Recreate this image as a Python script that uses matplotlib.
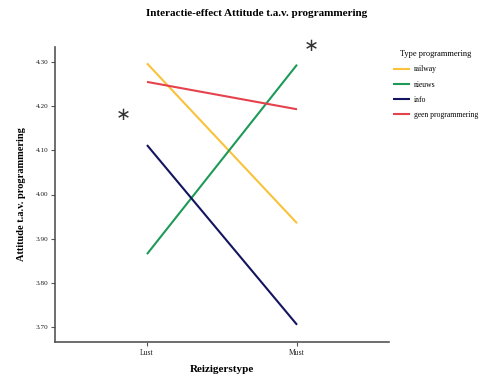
import matplotlib
matplotlib.use("Agg")
from matplotlib import pyplot as plt

# data
reizigerstype = ['Lust', 'Must']
series = ['railway', 'nieuws', 'info', 'geen programmering']
railway = [4.297, 3.935]
nieuws = [3.865, 4.294]
info = [4.112, 3.705]
geen = [4.255, 4.193]
y_ticks = [3.70, 3.80, 3.90, 4.00, 4.10, 4.20, 4.30]

kleuren = ['#F8C33A', '#1E9A58', '#14145F', '#E5424D']
waarden = [railway, nieuws, info, geen]

plt.rcParams['font.family'] = ['Liberation Serif', 'DejaVu Serif']

fig = plt.figure(figsize=(5.04, 3.85), dpi=100)
ax = fig.add_axes([55 / 504, 1 - 342 / 385, 334 / 504, 295 / 385])

x = list(range(len(reizigerstype)))
for naam, vals, kleur in zip(series, waarden, kleuren):
    ax.plot(x, vals, color=kleur, lw=1.5, label=naam, solid_capstyle='butt')

ax.set_xlim(-0.613, 1.613)
ax.set_ylim(3.666, 4.334)
ax.set_xticks(x)
ax.set_xticklabels(reizigerstype, fontsize=5.5)
ax.set_yticks(y_ticks)
ax.set_yticklabels([f'{t:.2f}' for t in y_ticks], fontsize=5.2)
ax.tick_params(length=3, width=0.8, colors='#555555', labelcolor='#222222', pad=2)

for s in ['top', 'right']:
    ax.spines[s].set_visible(False)
for s in ['left', 'bottom']:
    ax.spines[s].set_color('#555555')
    ax.spines[s].set_linewidth(1.2)

ax.set_xlabel('Reizigerstype', fontsize=8, fontweight='bold', labelpad=6)
ax.set_ylabel('Attitude t.a.v. programmering', fontsize=7.5, fontweight='bold', labelpad=7)

# significantie-sterretjes
ax.text(-0.158, 4.18, '\u2217', fontsize=13, ha='center', va='center', family='DejaVu Sans', color='#333333')
ax.text(1.098, 4.336, '\u2217', fontsize=13, ha='center', va='center', family='DejaVu Sans', color='#333333', clip_on=False)

fig.text(257 / 504, 1 - 14 / 385, 'Interactie-effect Attitude t.a.v. programmering',
         ha='center', va='center', fontsize=8, fontweight='bold')

leg = ax.legend(loc='upper left', bbox_to_anchor=(390 / 504, 1 - 47 / 385), bbox_transform=fig.transFigure,
                frameon=False, fontsize=5.5, title='Type programmering', title_fontsize=6,
                handlelength=2.2, handletextpad=0.5, labelspacing=0.95, borderaxespad=0, alignment='center')

fig.savefig('out.png', dpi=100)
